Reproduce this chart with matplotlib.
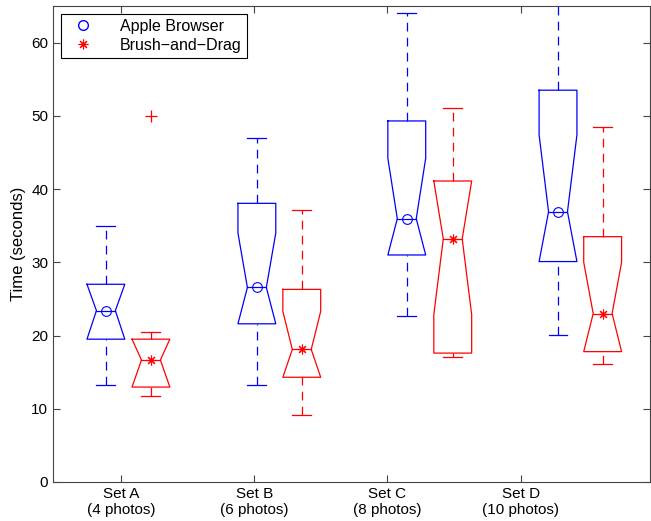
import matplotlib.pyplot as plt
from matplotlib.lines import Line2D

plt.rcParams['font.family'] = ['Liberation Sans', 'DejaVu Sans']

set_labels = ["Set A\n(4 photos)", "Set B\n(6 photos)", "Set C\n(8 photos)", "Set D\n(10 photos)"]
tick_pos = [1, 2, 3, 4]

# Apple Browser (blue)
apple_pos = [0.887, 2.02, 3.145, 4.28]
apple_lo = [13.2, 13.2, 22.7, 20.1]
apple_q1 = [19.5, 21.6, 31.0, 30.1]
apple_med = [23.4, 26.56, 35.96, 36.9]
apple_q3 = [27.0, 38.05, 49.3, 53.5]
apple_hi = [35.0, 47.0, 64.1, 66.0]
apple_notch_lo = [19.5, 21.6, 31.0, 30.1]
apple_notch_hi = [27.0, 34.0, 44.2, 47.4]

# Brush-and-Drag (red)
brush_pos = [1.225, 2.357, 3.49, 4.615]
brush_lo = [11.73, 9.1, 17.0, 16.1]
brush_q1 = [12.96, 14.3, 17.6, 17.8]
brush_med = [16.65, 18.1, 33.2, 23.0]
brush_q3 = [19.5, 26.3, 41.1, 33.5]
brush_hi = [20.5, 37.2, 51.06, 48.5]
brush_notch_lo = [12.96, 14.3, 22.86, 17.8]
brush_notch_hi = [19.5, 23.3, 41.1, 30.0]
brush_outliers = [(1.225, 50.0)]

BOX_W = 0.142   # half width
NOTCH_W = 0.071
ASTERISK = (8, 2, 0)


def draw_box(ax, c, lo, q1, med, q3, hi, nlo, nhi, color, marker):
    w, nw = BOX_W, NOTCH_W
    xs = [c - w, c + w, c + w, c + nw, c + w, c + w, c - w, c - w, c - nw, c - w, c - w]
    ys = [q3, q3, nhi, med, nlo, q1, q1, nlo, med, nhi, q3]
    ax.plot(xs, ys, color=color, lw=0.9)
    ax.plot([c - nw, c + nw], [med, med], color=color, lw=0.9)
    # whiskers
    ax.plot([c, c], [q3, hi], color=color, lw=0.9, linestyle=(0, (7, 5)))
    ax.plot([c, c], [lo, q1], color=color, lw=0.9, linestyle=(0, (7, 5)))
    ax.plot([c - nw, c + nw], [hi, hi], color=color, lw=0.9)
    ax.plot([c - nw, c + nw], [lo, lo], color=color, lw=0.9)
    ax.plot([c], [med], marker=marker, color=color, markerfacecolor='none',
            markersize=7, lw=0, markeredgewidth=0.8)


fig = plt.figure(figsize=(6.51, 5.21), dpi=100)
ax = fig.add_axes([0.0814, 0.0749, 0.917, 0.9136])

for i in range(4):
    draw_box(ax, apple_pos[i], apple_lo[i], apple_q1[i], apple_med[i], apple_q3[i],
             apple_hi[i], apple_notch_lo[i], apple_notch_hi[i], 'blue', 'o')
    draw_box(ax, brush_pos[i], brush_lo[i], brush_q1[i], brush_med[i], brush_q3[i],
             brush_hi[i], brush_notch_lo[i], brush_notch_hi[i], 'red', ASTERISK)

for x, y in brush_outliers:
    ax.plot([x], [y], marker='+', color='red', markersize=8, lw=0, markeredgewidth=0.9)

ax.set_xlim(0.49, 4.97)
ax.set_ylim(0, 65)
ax.set_xticks(tick_pos)
ax.set_xticklabels(set_labels, fontsize=11)
ax.set_yticks(range(0, 61, 10))
ax.tick_params(axis='y', labelsize=11)
ax.tick_params(direction='in', top=True, right=True, length=5, width=0.8, color='#444444')
for s in ax.spines.values():
    s.set_linewidth(0.8)
    s.set_color('#444444')
ax.set_ylabel("Time (seconds)", fontsize=12, labelpad=4)

handles = [
    Line2D([], [], marker='o', color='blue', markerfacecolor='none', lw=0, markersize=7),
    Line2D([], [], marker=ASTERISK, color='red', markerfacecolor='none', lw=0,
           markersize=7, markeredgewidth=0.8),
]
leg = ax.legend(handles, ["Apple Browser", "Brush\u2212and\u2212Drag"], loc='upper left',
                fontsize=11.5, fancybox=False, edgecolor='black', framealpha=1,
                borderaxespad=0.5, handletextpad=1.2, handlelength=2.2,
                borderpad=0.3, labelspacing=0.25)
leg.get_frame().set_linewidth(0.8)

fig.savefig("out.png", dpi=100)
